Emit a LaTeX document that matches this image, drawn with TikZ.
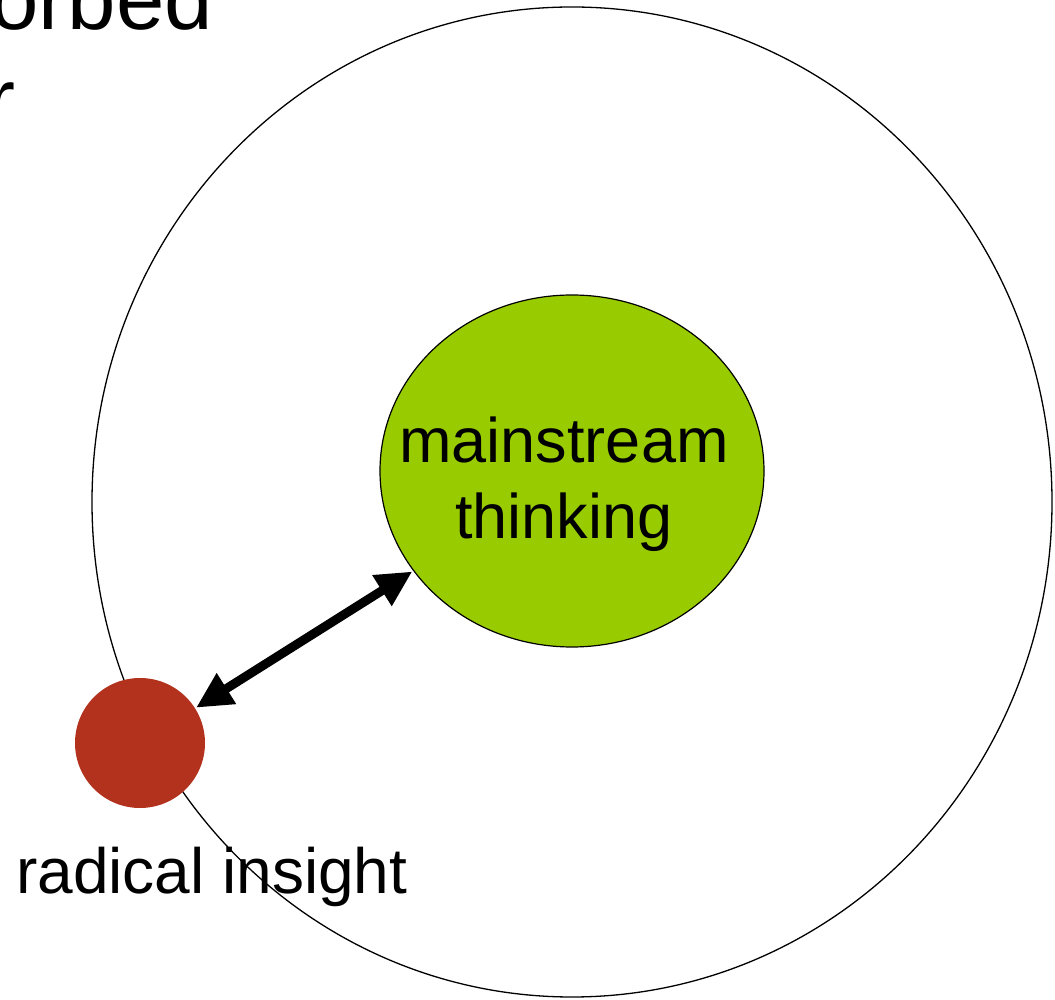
\documentclass[tikz,border=0pt]{standalone}
\usepackage{fontspec}
\setmainfont{Liberation Sans}
\usetikzlibrary{arrows.meta,shapes.geometric}
\definecolor{greenfill}{RGB}{153,204,0}
\definecolor{redfill}{RGB}{178,50,30}
\tikzset{
  bigtxt/.style={font=\fontsize{63}{76}\selectfont, inner sep=0pt, align=center},
  toptxt/.style={font=\fontsize{87}{100}\selectfont, inner sep=0pt},
  link/.style={line width=9pt, {Triangle[length=36pt,width=34pt]}-{Triangle[length=36pt,width=34pt]}, shorten <=1pt, shorten >=1pt}
}
\begin{document}
\begin{tikzpicture}[x=1pt,y=1pt]
\useasboundingbox (0,0) rectangle (1055,999);
% outer circle
\node[draw, line width=1.3pt, ellipse, minimum width=960pt, minimum height=990pt, inner sep=0pt] (outer) at (572,497) {};
% green ellipse
\node[draw, line width=1.2pt, fill=greenfill, ellipse, minimum width=384pt, minimum height=352pt, inner sep=0pt] (main) at (572,528) {};
\node[bigtxt, anchor=base] (l1) at (564,536) {mainstream};
\node[bigtxt, anchor=base] (l2) at (564,460) {thinking};
% red circle
\node[circle, fill=redfill, minimum size=130pt, inner sep=0pt] (rad) at (140,256) {};
\node[bigtxt, font=\fontsize{64}{76}\selectfont, anchor=base west] (radlbl) at (16,105) {radical insight};
% arrow
\draw[link] (rad) -- (main);
% top text (cropped)
\node[toptxt, anchor=base east] (t1) at (213,969) {orbed};
\node[toptxt, anchor=base east] (t2) at (16,869) {r};
\end{tikzpicture}
\end{document}
